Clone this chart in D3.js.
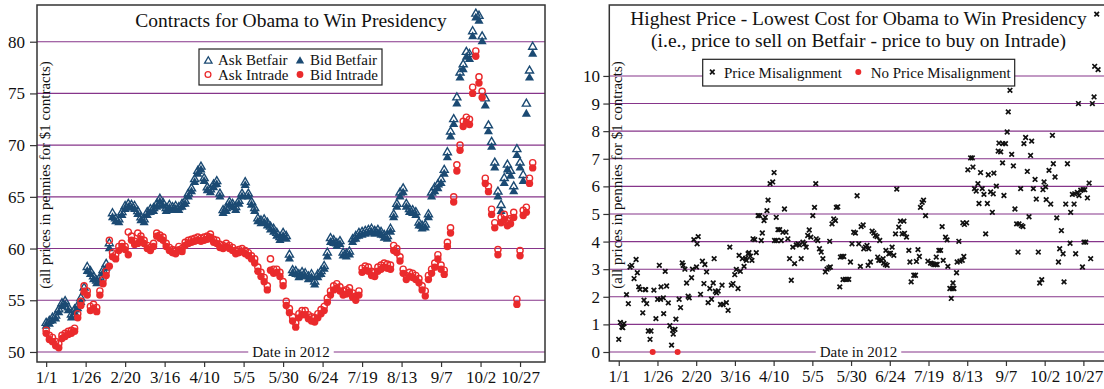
<!DOCTYPE html>
<html><head><meta charset="utf-8">
<script src="https://cdn.jsdelivr.net/npm/d3@7"></script>
<style>
body{margin:0;background:#fff;}
svg{display:block;}
svg text{font-family:"Liberation Serif","Times New Roman",serif !important;}
</style></head><body>
<svg id="chart" width="1104" height="389"></svg>
<script>
// ---------- DATA ----------
// day offsets from 1 Jan 2012 for the price series (left panel)
const days = [0,2,4,6,8,10,12,14,16,18,20,22,24,26,28,30,32,34,36,38,
 40,42,44,46,48,50,52,54,56,58,60,62,64,66,68,70,72,74,76,78,
 80,82,84,86,88,90,92,94,96,98,100,102,104,106,108,110,112,114,116,118,
 120,122,124,126,128,130,132,134,136,138,140,142,144,146,148,150,152,154,156,158,
 160,162,164,166,168,170,172,174,176,178,180,182,184,186,188,190,192,194,196,198,
 200,202,204,206,208,210,212,214,216,218,220,222,224,226,228,230,232,234,236,238,
 240,242,244,246,248,250,252,254,256,258,260,262,264,266,268,270,272,274,276,278,
 280,282,284,286,288,290,292,294,296,298,300,302,304,306,308];

const betfairAsk = [52.8,53.0,53.3,53.5,54.1,54.7,54.9,54.3,53.6,54.1,
 54.5,55.2,56.2,58.2,57.8,57.3,56.9,57.2,57.9,58.5,
 60.5,63.4,62.9,62.8,63.5,64.1,64.3,64.2,64.1,63.6,
 63.0,62.8,63.5,63.8,63.9,64.3,64.8,64.4,63.9,64.2,
 64.0,64.1,64.0,64.3,64.6,65.3,65.8,66.7,67.5,67.9,
 66.8,65.9,65.7,66.2,66.5,65.3,63.7,63.9,64.5,64.3,
 64.0,64.6,65.3,66.4,65.3,64.5,63.9,62.9,62.7,62.8,
 62.5,62.1,61.9,61.5,61.1,61.5,61.2,59.4,57.9,57.8,
 57.5,57.7,57.6,57.3,57.5,56.8,57.5,57.8,58.3,59.6,
 61.0,60.8,60.5,60.7,59.6,59.5,59.7,60.9,61.2,61.5,
 61.6,61.7,61.8,61.9,61.7,61.8,61.6,61.3,61.2,61.9,
 63.3,64.3,65.4,65.8,64.3,63.8,63.7,63.5,62.5,62.2,
 62.3,63.3,65.4,65.9,66.2,66.7,67.6,69.3,71.3,72.5,
 74.6,77.0,77.8,79.0,78.8,81.0,82.7,82.5,80.5,74.5,
 71.9,70.3,68.3,65.5,64.2,66.8,68.1,67.5,66.0,69.6,
 68.3,67.1,74.0,77.2,79.5];

const betfairBid = [52.5,52.7,53.0,53.2,53.8,54.4,54.6,54.0,53.3,53.8,
 54.2,54.8,55.8,57.8,57.5,57.0,56.6,56.9,57.6,58.1,
 60.0,63.0,62.6,62.5,63.2,63.8,64.0,63.9,63.8,63.3,
 62.7,62.5,63.2,63.5,63.6,64.0,64.5,64.1,63.6,63.9,
 63.7,63.8,63.7,64.0,64.3,65.0,65.5,66.4,67.2,67.6,
 66.5,65.6,65.4,65.9,66.2,65.0,63.4,63.6,64.2,64.0,
 63.7,64.3,65.0,66.1,65.0,64.2,63.6,62.6,62.4,62.5,
 62.2,61.8,61.6,61.2,60.8,61.2,60.9,59.0,57.6,57.5,
 57.2,57.4,57.3,57.0,57.2,56.5,57.2,57.5,58.0,59.2,
 60.6,60.5,60.2,60.4,59.3,59.2,59.4,60.6,60.9,61.2,
 61.3,61.4,61.5,61.6,61.4,61.5,61.3,61.0,60.9,61.6,
 63.0,64.0,65.0,65.4,64.0,63.5,63.4,63.2,62.2,61.9,
 62.0,63.0,65.0,65.5,65.8,66.3,67.2,68.8,70.8,72.0,
 74.0,76.5,77.3,78.5,78.3,80.5,82.3,82.0,80.0,73.8,
 71.3,69.8,67.8,65.0,63.6,66.3,67.6,67.0,65.5,69.0,
 67.8,66.5,73.0,76.5,78.8];

const intradeAsk = [52.1,51.6,51.4,51.0,50.8,51.6,51.8,52.0,52.1,52.3,
 53.7,54.9,56.4,55.9,54.4,54.6,54.3,55.9,57.0,57.8,
 60.8,59.6,59.4,60.2,60.5,60.2,61.6,61.2,60.7,61.5,
 61.2,60.8,60.3,60.1,60.5,61.5,61.3,61.1,60.5,60.1,
 59.9,59.8,60.2,60.0,60.6,60.8,60.9,61.0,61.1,61.0,
 61.1,61.2,61.4,60.9,60.8,60.4,60.3,60.5,60.3,60.1,
 59.8,59.9,60.0,59.8,59.6,59.3,59.0,58.2,57.7,57.2,
 56.4,59.0,58.0,58.0,57.7,56.8,54.9,54.2,53.4,52.8,
 53.7,54.0,54.0,53.6,53.4,53.3,53.7,54.1,54.4,55.2,
 55.9,56.4,56.6,56.3,55.9,56.0,56.2,55.7,55.4,55.9,
 58.1,58.3,58.2,57.8,57.7,58.2,58.4,58.6,58.5,58.4,
 60.3,60.0,59.2,58.0,57.4,57.7,57.6,57.4,57.1,56.4,
 55.9,57.4,58.0,58.6,59.4,58.4,57.9,60.6,62.0,65.0,
 68.1,70.0,72.3,72.7,72.5,75.6,79.1,76.6,75.2,66.8,
 66.0,63.8,62.5,59.9,63.0,63.3,62.7,62.9,63.5,55.1,
 59.8,63.7,64.0,66.8,68.3];

const intradeBid = [51.8,51.2,51.0,50.6,50.4,51.3,51.5,51.7,51.8,52.0,
 53.3,54.5,55.8,55.5,54.0,54.2,53.9,55.5,56.6,57.4,
 58.3,59.2,59.0,59.8,60.2,59.9,59.4,60.8,60.4,60.5,
 60.9,60.5,60.0,59.8,60.2,61.2,61.0,60.8,60.2,59.8,
 59.6,59.5,59.9,59.7,60.3,60.5,60.6,60.7,60.8,60.7,
 60.8,60.9,61.1,60.6,60.5,60.1,60.0,60.2,60.0,59.8,
 59.5,59.6,59.7,59.5,59.3,59.0,58.6,57.8,57.3,56.8,
 56.0,57.9,57.6,57.7,57.3,56.4,54.5,53.8,53.0,52.4,
 53.3,53.6,53.6,53.2,53.0,52.9,53.3,53.7,54.0,54.8,
 55.5,56.0,56.2,55.9,55.5,55.6,55.8,55.3,55.0,55.5,
 57.7,57.9,57.8,57.4,57.3,57.8,58.0,58.2,58.1,58.0,
 59.8,59.6,58.8,57.6,57.0,57.3,57.2,57.0,56.7,56.0,
 55.4,57.0,57.6,58.2,59.0,58.0,57.5,60.2,61.5,64.5,
 67.5,69.5,71.8,72.2,72.0,75.0,78.6,76.0,74.6,66.3,
 65.5,63.3,62.0,59.4,62.5,62.8,62.2,62.4,63.0,54.6,
 59.3,63.2,63.5,66.3,67.8];

// right panel: price misalignment (day offset, cents)
const misDays = [0,1,2,2.6,3.4,5,6.2,7.3,8.4,9.9,
 11.2,12,12.9,13.7,15.5,16.3,17,17.4,18,19.1,
 20.2,20.8,22.7,24,25.1,26.2,27,27.3,28.8,29,
 30,30.9,32,33,34.1,34.8,35.2,36.3,36.9,39,
 39.9,41,41.6,42.7,43.8,44.8,45.5,47,47.6,48.5,
 50.2,50.6,51.3,52.8,54,55,55.6,56.7,57.7,58.8,
 59.9,61,61.6,62.4,63.1,64.2,65.7,66.7,67.4,69.5,
 70.6,71.7,72.7,73.8,74.9,75.9,77,77.7,78.5,79.8,
 80.9,82,82.4,83.5,84.1,85,86,86.7,87.8,88.8,
 90,91,92,92.7,93.8,94.6,95.7,96.4,97.7,99.4,
 100.3,100.6,101.7,101.9,102.8,103.9,104.9,106,107,108,
 109.2,110.3,111.4,112.4,113.5,114.6,115.7,116.7,117.8,118.9,
 120,121,122,123,124,125.3,126.4,127.2,127.5,128.5,
 129.6,130.7,131.8,133.4,134.5,135.6,136.2,136.6,137.7,138.8,
 139.9,140.5,141.4,142.7,143.1,144.2,144.8,145.3,146.3,147.4,
 148.5,149.6,150.6,151.7,152.8,153.9,155,156,156.5,157.8,
 158.2,159.3,160.3,161,161.4,162.5,163.6,164.7,165.7,166.8,
 167.2,167.9,168.5,169.4,170.7,171,172.2,172.5,173.3,174.4,
 175.4,176.5,177.6,178.7,179.5,180.8,181.9,183,184.1,184.5,
 185.8,187.3,188,188.8,190.5,191.6,192.2,193.2,194.1,194.8,
 195.9,196.8,198.1,199.6,201.3,202.4,203.4,204.5,205,205.6,
 206.7,207.8,208.8,209.5,211,212,212.5,213.8,214.7,215.3,
 215.8,216.4,218.1,218.5,219.6,220.3,221.8,222.2,222.8,223.2,
 224.6,225.4,227.2,228.3,228.7,229.7,230.8,231.9,232.6,233.6,
 234.7,235.8,236.9,238,238.6,240.1,241.2,241.8,242.2,243.8,
 245,245.5,246.6,247.8,248,248.7,249.7,250.8,251.5,252.6,
 253.7,254.8,255.8,256.9,257.8,258.4,259.5,260,261,261.6,
 262.7,263.8,264.9,265.9,266.6,267.7,268.8,269.6,270.9,271.8,
 273.1,273.9,274.6,275.6,276,277.8,278.9,280,280.6,281.7,
 282.8,283.9,284.7,285.8,286.9,287.5,288.6,289.7,291.4,291.8,
 292.9,294,294.4,295,296.1,296.8,297.2,298.3,299.4,299.8,
 300.4,300.9,301.5,302.6,303.7,304.7,305.8,306.9,307.3,308.6,
 309.5];
const misValues = [0.46,1.07,0.90,0.88,1.03,2.08,1.75,3.08,3.14,2.66,
 3.35,2.87,2.36,2.27,1.42,1.88,2.26,2.26,1.75,0.76,
 0.46,0.76,2.24,1.21,1.91,3.14,1.91,2.36,1.96,1.39,
 2.92,2.39,1.78,0.95,0.25,0.79,0.65,0.82,1.19,1.91,
 1.61,3.23,3.14,3.00,2.50,2.02,1.96,2.69,3.00,4.07,
 3.08,3.92,4.18,2.09,3.29,2.48,3.17,2.90,1.79,2.30,
 1.91,2.50,3.38,2.20,2.14,2.21,1.72,2.42,1.72,1.79,
 1.51,3.80,2.42,2.48,2.80,2.99,2.30,3.50,2.92,3.38,
 3.10,3.40,3.32,3.56,3.60,3.47,3.32,4.10,4.07,3.60,
 4.94,4.94,4.04,4.31,4.76,4.88,5.12,5.50,6.10,6.16,
 6.50,4.04,4.88,4.04,4.43,4.43,4.04,4.34,5.18,4.34,
 4.10,3.38,2.60,3.80,3.20,3.88,3.92,3.88,3.38,3.98,
 3.92,3.80,4.22,4.42,4.16,4.94,5.24,6.10,4.10,4.04,
 3.74,3.62,3.38,2.90,3.00,3.05,4.01,3.08,4.64,4.82,
 4.76,5.24,5.26,2.36,3.44,3.46,2.62,3.46,2.63,2.63,
 2.63,3.26,3.92,4.34,4.31,5.66,3.92,3.10,4.54,4.60,
 3.74,3.80,3.86,3.14,3.74,3.26,4.38,4.31,4.22,4.18,
 3.44,3.32,4.04,3.32,3.38,3.22,3.17,3.68,3.14,3.56,
 3.58,3.80,3.50,4.28,5.90,4.52,4.74,4.28,4.74,4.30,
 4.16,3.68,3.26,2.54,2.78,2.78,3.28,3.71,3.46,5.24,
 5.42,5.50,4.94,3.29,3.22,3.20,3.17,3.17,3.44,3.17,
 3.68,3.68,4.54,3.32,4.16,4.06,3.10,2.30,1.94,2.30,
 2.50,2.30,2.87,3.26,4.01,3.29,3.32,4.68,3.46,4.62,
 4.68,6.60,7.03,7.03,6.70,5.92,5.83,6.10,5.38,6.50,
 5.92,5.71,4.28,5.38,6.42,5.80,5.06,5.73,6.48,6.01,
 7.28,7.57,7.25,6.85,7.55,5.67,7.55,7.97,8.70,9.48,
 7.16,6.74,5.18,4.64,3.62,4.64,5.92,4.58,4.54,7.55,
 7.77,6.54,4.90,7.12,7.64,5.92,6.25,5.54,3.62,2.50,
 2.62,5.88,6.16,5.98,5.52,6.58,5.36,7.85,6.82,6.34,
 4.86,3.26,3.74,4.40,3.56,2.54,5.36,6.82,3.94,5.06,
 5.71,5.36,5.73,3.56,5.78,9.00,5.67,5.86,3.08,5.88,
 3.98,5.88,3.98,5.58,6.12,3.38,9.00,9.24,10.35,12.24,
 10.23];
const noMisDays = [21.9, 38.0];
const noMisValues = [0, 0];

// axis ticks
const tickDays = [0,25,50,75,100,125,150,175,200,225,250,275,300];
const tickLabels = ["1/1","1/26","2/20","3/16","4/10","5/5","5/30","6/24","7/19","8/13","9/7","10/2","10/27"];
const leftYTicks = [50,55,60,65,70,75,80];
const rightYTicks = [0,1,2,3,4,5,6,7,8,9,10];

// ---------- STYLE ----------
const BLUE = "#1b4a73", RED = "#ea2a2c", GRID = "#86358a", FRAME = "#333";
const svg = d3.select("#chart");

function zipSeries(xs, ys){ return xs.map((d,i)=>({d:d, v:ys[i]})); }

function panel(opt){
  const g = svg.append("g");
  const x = d3.scaleLinear().domain(opt.xDomain).range([opt.x0, opt.x1]);
  const y = d3.scaleLinear().domain(opt.yDomain).range([opt.y1, opt.y0]);
  const clipId = "clip" + opt.id;
  svg.append("clipPath").attr("id", clipId).append("rect")
    .attr("x", opt.x0).attr("y", opt.y0).attr("width", opt.x1-opt.x0).attr("height", opt.y1-opt.y0);

  // grid
  g.append("g").selectAll("line").data(opt.yTicks).join("line")
    .attr("x1", opt.x0).attr("x2", opt.x1)
    .attr("y1", d=>y(d)).attr("y2", d=>y(d))
    .attr("stroke", GRID).attr("stroke-width", 1.1);

  // date label with white background
  const dl = g.append("g");
  const dt = dl.append("text").attr("x", (opt.x0+opt.x1)/2).attr("y", opt.dateY)
    .attr("text-anchor","middle").attr("font-size", 15).attr("fill","#111").text("Date in 2012");
  const bb = dt.node().getBBox();
  dl.insert("rect","text").attr("x", bb.x-4).attr("y", bb.y).attr("width", bb.width+8).attr("height", bb.height).attr("fill","#fff");

  // y label
  g.append("text").attr("transform", `translate(${opt.x0+12.5},175) rotate(-90)`)
    .attr("text-anchor","middle").attr("font-size",15).attr("fill","#111")
    .text("(all prices in pennies for $1 contracts)");

  const plot = g.append("g").attr("clip-path", `url(#${clipId})`);

  // axes
  const xa = g.append("g").attr("transform", `translate(0,${opt.y1})`)
    .call(d3.axisBottom(x).tickValues(tickDays).tickFormat((d,i)=>tickLabels[i]).tickSize(5).tickPadding(4));
  const ya = g.append("g").attr("transform", `translate(${opt.x0},0)`)
    .call(d3.axisLeft(y).tickValues(opt.yTicks).tickFormat(d3.format("d")).tickSize(opt.tickLen).tickPadding(opt.tickPad));
  [xa, ya].forEach(a=>{
    a.attr("font-family", null);
    a.select(".domain").remove();
    a.selectAll("line").attr("stroke", FRAME).attr("stroke-width", 1.2);
    a.selectAll("text").attr("font-size", 17).attr("fill", "#111");
  });

  // frame
  g.append("rect").attr("x", opt.x0).attr("y", opt.y0).attr("width", opt.x1-opt.x0).attr("height", opt.y1-opt.y0)
    .attr("fill","none").attr("stroke", FRAME).attr("stroke-width", 1.5);

  return {g, x, y, plot};
}

// ---------- LEFT PANEL ----------
const L = panel({id:"L", x0:37, x1:545, y0:5, y1:362, xDomain:[-5.8,315.8], yDomain:[49.03,83.55],
  yTicks:leftYTicks, dateY:357, tickLen:7, tickPad:5});

const triFilled = d3.symbol().type(d3.symbolTriangle).size(36);
const triOpen = d3.symbol().type(d3.symbolTriangle).size(28);

L.plot.append("g").selectAll("path").data(zipSeries(days, betfairAsk)).join("path")
  .attr("d", triOpen).attr("transform", p=>`translate(${L.x(p.d)},${L.y(p.v)})`)
  .attr("fill","none").attr("stroke", BLUE).attr("stroke-width",1.4);
L.plot.append("g").selectAll("path").data(zipSeries(days, betfairBid)).join("path")
  .attr("d", triFilled).attr("transform", p=>`translate(${L.x(p.d)},${L.y(p.v)})`)
  .attr("fill", BLUE);
L.plot.append("g").selectAll("circle").data(zipSeries(days, intradeAsk)).join("circle")
  .attr("cx", p=>L.x(p.d)).attr("cy", p=>L.y(p.v)).attr("r", 3.1)
  .attr("fill","none").attr("stroke", RED).attr("stroke-width",1.4);
L.plot.append("g").selectAll("circle").data(zipSeries(days, intradeBid)).join("circle")
  .attr("cx", p=>L.x(p.d)).attr("cy", p=>L.y(p.v)).attr("r", 3.7)
  .attr("fill", RED);

L.g.append("text").attr("x", 291).attr("y", 26.5).attr("text-anchor","middle")
  .attr("font-size", 19.5).attr("fill","#111").text("Contracts for Obama to Win Presidency");

// left legend
const lg = L.g.append("g");
lg.append("rect").attr("x",199).attr("y",49).attr("width",183).attr("height",36)
  .attr("fill","#fff").attr("stroke","#222").attr("stroke-width",1.2);
lg.append("path").attr("d", d3.symbol().type(d3.symbolTriangle).size(24)).attr("transform","translate(208.3,61)").attr("fill","none").attr("stroke",BLUE).attr("stroke-width",1.3);
lg.append("path").attr("d", d3.symbol().type(d3.symbolTriangle).size(30)).attr("transform","translate(300,61)").attr("fill",BLUE);
lg.append("circle").attr("cx",208).attr("cy",74.5).attr("r",2.9).attr("fill","none").attr("stroke",RED).attr("stroke-width",1.3);
lg.append("circle").attr("cx",300).attr("cy",74.5).attr("r",3.4).attr("fill",RED);
[["Ask Betfair",218,64.5],["Bid Betfair",310,64.5],["Ask Intrade",218,79.5],["Bid Intrade",310,79.5]].forEach(t=>{
  lg.append("text").attr("x",t[1]).attr("y",t[2]).attr("font-size",15).attr("fill","#111").text(t[0]);
});

// ---------- RIGHT PANEL ----------
const R = panel({id:"R", x0:609.3, x1:1107.7, y0:5, y1:361, xDomain:[-6.1,315.7], yDomain:[-0.326,12.57],
  yTicks:rightYTicks, dateY:357, tickLen:6, tickPad:3.3});

const xMark = "M-2.3,-2.3L2.3,2.3M-2.3,2.3L2.3,-2.3";
R.plot.append("g").selectAll("path").data(zipSeries(misDays, misValues)).join("path")
  .attr("d", xMark).attr("transform", p=>`translate(${R.x(p.d)},${R.y(p.v)})`)
  .attr("fill","none").attr("stroke","#111").attr("stroke-width",1.7);
R.plot.append("g").selectAll("circle").data(zipSeries(noMisDays, noMisValues)).join("circle")
  .attr("cx", p=>R.x(p.d)).attr("cy", p=>R.y(p.v)).attr("r", 3).attr("fill", RED);

R.g.append("text").attr("text-anchor","middle").attr("font-size", 19.5).attr("fill","#111")
  .attr("x", 858.5).attr("y", 24.5).text("Highest Price - Lowest Cost for Obama to Win Presidency");
R.g.append("text").attr("text-anchor","middle").attr("font-size", 19.5).attr("fill","#111")
  .attr("x", 858.5).attr("y", 46.5).text("(i.e., price to sell on Betfair - price to buy on Intrade)");

const rg = R.g.append("g");
rg.append("rect").attr("x",702.7).attr("y",59.3).attr("width",312).attr("height",26.7)
  .attr("fill","#fff").attr("stroke","#222").attr("stroke-width",1.2);
rg.append("path").attr("d", xMark).attr("transform","translate(712.3,72)").attr("fill","none").attr("stroke","#111").attr("stroke-width",1.7);
rg.append("circle").attr("cx",858.3).attr("cy",72).attr("r",3).attr("fill",RED);
rg.append("text").attr("x",724).attr("y",78).attr("font-size",15).attr("fill","#111").text("Price Misalignment");
rg.append("text").attr("x",870.7).attr("y",78).attr("font-size",15).attr("fill","#111").text("No Price Misalignment");
</script>
</body></html>
